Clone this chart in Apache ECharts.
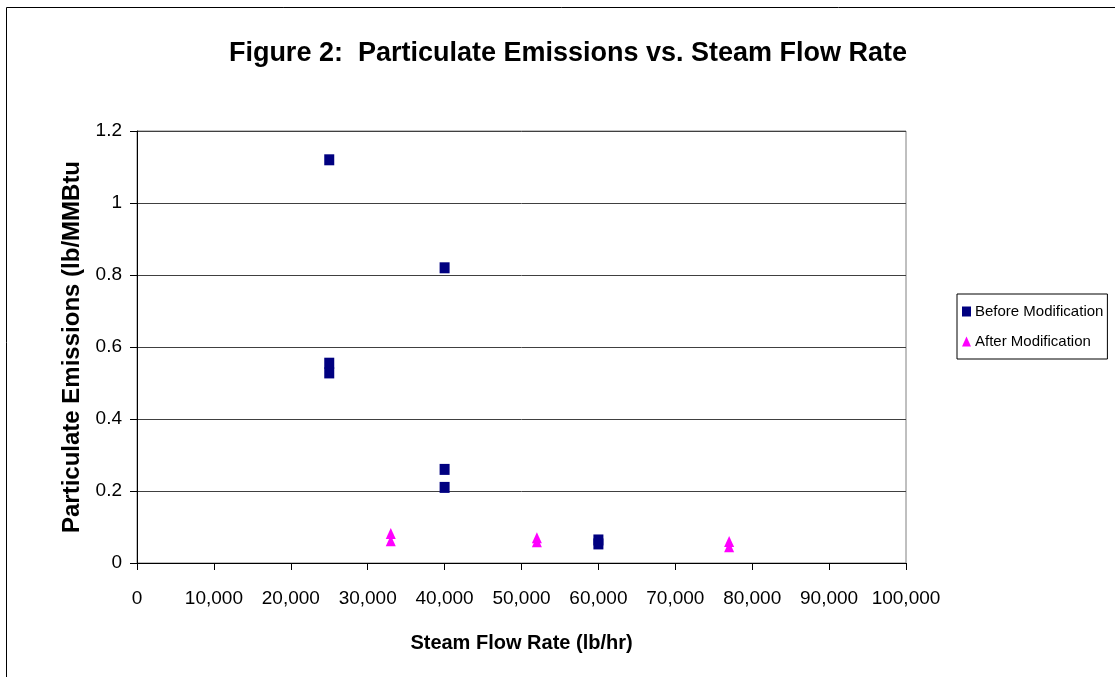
<!DOCTYPE html>
<html>
<head>
<meta charset="utf-8">
<script src="https://cdn.jsdelivr.net/npm/echarts@6/dist/echarts.min.js"></script>
<style>
html,body{margin:0;padding:0;background:#fff;}
#chart{width:1115px;height:677px;}
</style>
</head>
<body>
<div id="chart"></div>
<script>
var titleText = 'Figure 2:  Particulate Emissions vs. Steam Flow Rate';
var xAxisName = 'Steam Flow Rate (lb/hr)';
var yAxisName = 'Particulate Emissions (lb/MMBtu';
var seriesNames = ['Before Modification', 'After Modification'];
var beforeData = [[25000,1.12],[40000,0.82],[25000,0.555],[25000,0.528],[40000,0.26],[40000,0.21],[60000,0.064],[60000,0.053]];
var afterData = [[33000,0.082],[33000,0.062],[52000,0.07],[52000,0.059],[77000,0.06],[77000,0.045]];
var xTicks = [0,10000,20000,30000,40000,50000,60000,70000,80000,90000,100000];
var yTicks = [0,0.2,0.4,0.6,0.8,1,1.2];

var chart = echarts.init(document.getElementById('chart'));
var font = '"Liberation Sans", Arial, sans-serif';
chart.setOption({
  animation: false,
  backgroundColor: '#fff',
  textStyle: {fontFamily: font},
  graphic: [{
    type: 'rect', z: -10, silent: true,
    shape: {x: 6.5, y: 7.5, width: 1200, height: 800},
    style: {fill: 'none', stroke: '#000', lineWidth: 1}
  }],
  title: {
    text: titleText, left: 563, top: 35, textAlign: 'center',
    textStyle: {fontSize: 27, fontWeight: 'bold', color: '#000', fontFamily: font}
  },
  legend: {
    orient: 'vertical', left: 957, top: 294,
    padding: [10, 4, 10, 5], itemGap: 15, itemWidth: 9, itemHeight: 10,
    borderColor: '#000', borderWidth: 1,
    textStyle: {fontSize: 15, color: '#000', fontFamily: font, padding: [0,0,0,-1]},
    data: seriesNames
  },
  grid: {
    left: 137, right: 209, top: 131, bottom: 114,
    show: true, borderColor: '#808080', borderWidth: 1
  },
  xAxis: {
    type: 'value', min: xTicks[0], max: xTicks[xTicks.length-1], interval: 10000,
    name: xAxisName, nameLocation: 'middle', nameGap: 70,
    nameTextStyle: {fontSize: 20, fontWeight: 'bold', color: '#000', fontFamily: font},
    axisLine: {show: true, lineStyle: {color: '#000'}},
    axisTick: {show: true, length: 7, lineStyle: {color: '#000'}},
    axisLabel: {margin: 26, fontSize: 19, color: '#000', fontFamily: font,
      formatter: function(v){ return v.toLocaleString('en-US'); }},
    splitLine: {show: false}
  },
  yAxis: {
    type: 'value', min: yTicks[0], max: yTicks[yTicks.length-1], interval: 0.2,
    name: yAxisName, nameLocation: 'middle', nameGap: 53,
    nameTextStyle: {fontSize: 24, fontWeight: 'bold', color: '#000', fontFamily: font},
    axisLine: {show: true, lineStyle: {color: '#000'}},
    axisTick: {show: true, length: 7, lineStyle: {color: '#000'}},
    axisLabel: {margin: 15, fontSize: 19, color: '#000', fontFamily: font},
    splitLine: {show: true, lineStyle: {color: '#404040', width: 1}}
  },
  series: [{
    name: seriesNames[0], type: 'scatter', symbol: 'rect', symbolSize: [10, 11],
    itemStyle: {color: '#000080', opacity: 1}, data: beforeData
  }, {
    name: seriesNames[1], type: 'scatter', symbol: 'triangle', symbolSize: [10, 11],
    itemStyle: {color: '#FF00FF', opacity: 1}, data: afterData
  }]
});
</script>
</body>
</html>
